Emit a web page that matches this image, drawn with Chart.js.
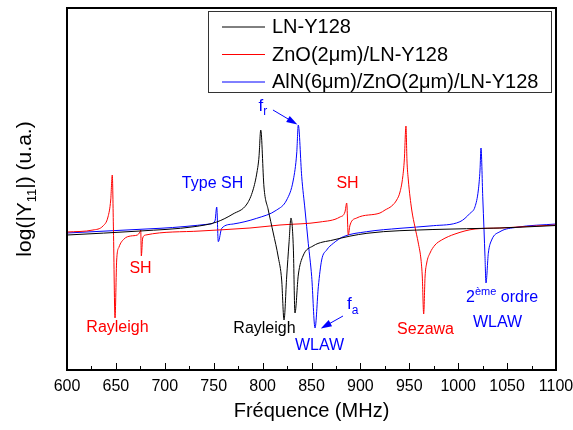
<!DOCTYPE html>
<html>
<head>
<meta charset="utf-8">
<script src="https://cdn.jsdelivr.net/npm/chart.js@4/dist/chart.umd.min.js"></script>
<style>
html,body{margin:0;padding:0;background:#fff;}
</style>
</head>
<body>
<canvas id="c" width="573" height="430"></canvas>
<script>
// series names as in the legend
const seriesNames = ['LN-Y128', 'ZnO(2\u03bcm)/LN-Y128', 'AlN(6\u03bcm)/ZnO(2\u03bcm)/LN-Y128'];

// LN-Y128 (black)
const lnFreq  = [600, 674.6, 729.9, 753.1, 769.7, 784, 790.2, 794.3, 796.3, 798.1, 801.4, 805.8, 810.9, 816, 819.5, 821.9, 824.6, 827, 829, 831.4, 833.1, 836.5, 841.3, 851.5, 872, 906.7, 974.2, 1042.7, 1100];
const lnLevel = [135, 139, 143.3, 148, 156, 166, 180, 198, 213, 240, 183, 160, 137, 113, 90, 50, 93, 127, 152, 123, 57, 95, 114, 124, 130, 136.7, 140.5, 142, 144.5];

// ZnO(2um)/LN-Y128 (red)
const znoFreq  = [600, 626.6, 636.8, 641.9, 644.7, 646.3, 647.5, 649.1, 650.8, 653.2, 658.3, 665.1, 671.9, 674.6, 675.4, 676.0, 677.4, 680.5, 736, 787.1, 817.8, 858.7, 879.1, 884.2, 886.0, 887.6, 889.4, 896.2, 920, 925.2, 932, 937.1, 940.5, 943.3, 944.9, 946.6, 947.6, 949, 952.5, 955.8, 959.2, 962, 963.3, 964.7, 966.1, 967.8, 971.2, 976.3, 983.1, 996.7, 1017.2, 1042.7, 1070.3, 1100];
const znoLevel = [138, 140, 144, 153, 170, 195, 140, 52, 110, 123, 131, 134, 135, 138, 140, 114, 132, 135, 139, 142, 145, 148, 153, 158, 167, 135, 145, 152, 157, 160, 164, 170, 178, 193, 210, 244, 210, 190, 160, 143, 127, 110, 93, 56, 93, 107, 117, 125, 130, 136, 141, 142, 143.5, 145];

// AlN(6um)/ZnO(2um)/LN-Y128 (blue)
const alnFreq  = [600, 695.1, 746.2, 751.3, 753.1, 754.7, 758.2, 770, 794, 814.4, 824.6, 831.4, 834.9, 836.5, 840, 843.4, 846.7, 850.2, 853.6, 857, 860.4, 865.5, 872.3, 882.5, 906.4, 940.5, 974.5, 1001.8, 1012.1, 1017.2, 1020.6, 1022.3, 1023.3, 1025.1, 1026.4, 1027.4, 1028.4, 1030.8, 1034.2, 1042.7, 1059.8, 1100];
const alnLevel = [137, 141.7, 146, 149, 163, 128.3, 141.7, 146, 151.7, 160, 170, 190, 217, 245, 193.3, 160, 126.7, 93.3, 42, 83.3, 110, 120, 126.7, 133.3, 138.3, 141.7, 144.3, 148.3, 156.7, 163.3, 180, 200, 222, 173.3, 140, 113.3, 87, 116.7, 130, 138.3, 142.7, 146];

const seriesColors = ['#000000', '#ff0000', '#0000ff'];

const FONT = '"Liberation Sans", Arial, Helvetica, sans-serif';

function pts(xs, ys) {
  return xs.map((x, i) => ({x: x, y: ys[i]}));
}

// text labels: [text, freq, level(baseline), colour]
const labels = [
  ['Rayleigh', 651.6, 38, '#ff0000'],
  ['SH', 675.2, 97.3, '#ff0000'],
  ['Type SH', 748.8, 182.5, '#0000ff'],
  ['SH', 886.8, 181.7, '#ff0000'],
  ['Rayleigh', 801.9, 37, '#000000'],
  ['WLAW', 858.2, 20, '#0000ff'],
  ['Sezawa', 966.6, 36, '#ff0000'],
  ['WLAW', 1040.2, 43.3, '#0000ff']
];

function drawParts(ctx, parts, x, y) {
  let cx = x;
  ctx.textAlign = 'left';
  ctx.textBaseline = 'alphabetic';
  parts.forEach(p => {
    ctx.font = p[1] + 'px ' + FONT;
    ctx.fillText(p[0], cx, y + p[2]);
    cx += ctx.measureText(p[0]).width;
  });
}

function arrow(ctx, x0, y0, x1, y1, col) {
  const a = Math.atan2(y1 - y0, x1 - x0);
  ctx.strokeStyle = col;
  ctx.fillStyle = col;
  ctx.lineWidth = 1;
  ctx.beginPath();
  ctx.moveTo(x0, y0);
  ctx.lineTo(x1 - 8 * Math.cos(a), y1 - 8 * Math.sin(a));
  ctx.stroke();
  ctx.beginPath();
  ctx.moveTo(x1, y1);
  ctx.lineTo(x1 - 11 * Math.cos(a) + 3.5 * Math.sin(a), y1 - 11 * Math.sin(a) - 3.5 * Math.cos(a));
  ctx.lineTo(x1 - 11 * Math.cos(a) - 3.5 * Math.sin(a), y1 - 11 * Math.sin(a) + 3.5 * Math.cos(a));
  ctx.closePath();
  ctx.fill();
}

const extras = {
  id: 'extras',
  afterDraw(chart) {
    const ctx = chart.ctx;
    const a = chart.chartArea;
    const xs = chart.scales.x, ys = chart.scales.y;
    const X = v => xs.getPixelForValue(v);
    const Y = v => ys.getPixelForValue(v);
    ctx.save();

    // frame
    ctx.strokeStyle = '#000';
    ctx.lineWidth = 2;
    ctx.strokeRect(a.left, a.top, a.right - a.left, a.bottom - a.top);

    // inward ticks on the bottom axis
    ctx.lineWidth = 1;
    ctx.beginPath();
    for (let f = 600; f <= 1100; f += 25) {
      const px = Math.round(X(f)) + 0.5;
      const len = (f % 50 === 0) ? 7 : 4;
      ctx.moveTo(px, a.bottom);
      ctx.lineTo(px, a.bottom - len);
    }
    ctx.stroke();

    // y axis title with subscript
    ctx.save();
    ctx.translate(24, (a.top + a.bottom) / 2);
    ctx.rotate(-Math.PI / 2);
    ctx.fillStyle = '#000';
    const yParts = [['log(|Y', 21, 0], ['11', 13, 5], ['|) (u.a.)', 21, 0]];
    let w = 0;
    yParts.forEach(p => { ctx.font = p[1] + 'px ' + FONT; w += ctx.measureText(p[0]).width; });
    drawParts(ctx, yParts, -w / 2, 7);
    ctx.restore();

    // annotations
    labels.forEach(l => {
      ctx.font = '16px ' + FONT;
      ctx.fillStyle = l[3];
      ctx.textAlign = 'center';
      ctx.textBaseline = 'alphabetic';
      ctx.fillText(l[0], X(l[1]), Y(l[2]));
    });
    ctx.fillStyle = '#0000ff';
    drawParts(ctx, [['f', 17, 0], ['r', 12, 4]], X(795.8), Y(259));
    drawParts(ctx, [['f', 17, 0], ['a', 12, 5]], X(886.3), Y(61));
    drawParts(ctx, [['2', 16, 0], ['\u00e8me', 11, -7], [' ordre', 16, 0]], X(1008), Y(68.3));
    arrow(ctx, X(810.6), Y(260), X(835.6), Y(245.5), '#0000ff');
    arrow(ctx, X(882.2), Y(54), X(859.5), Y(41.5), '#0000ff');

    // legend box
    const lx = 208.5, ly = 11.5, lw = 343, lh = 81;
    ctx.fillStyle = '#fff';
    ctx.fillRect(lx, ly, lw, lh);
    ctx.strokeStyle = '#333';
    ctx.lineWidth = 1;
    ctx.strokeRect(lx, ly, lw, lh);
    const rows = [26.5, 54, 81.5];
    seriesNames.forEach((n, i) => {
      ctx.strokeStyle = seriesColors[i];
      ctx.beginPath();
      ctx.moveTo(222, rows[i] + 0.5);
      ctx.lineTo(265, rows[i] + 0.5);
      ctx.stroke();
      ctx.fillStyle = '#000';
      ctx.font = '20px ' + FONT;
      ctx.textAlign = 'left';
      ctx.textBaseline = 'middle';
      ctx.fillText(n, 272, rows[i] + 1);
    });
    ctx.restore();
  }
};

const datasets = [
  {label: seriesNames[0], data: pts(lnFreq, lnLevel), borderColor: seriesColors[0]},
  {label: seriesNames[1], data: pts(znoFreq, znoLevel), borderColor: seriesColors[1]},
  {label: seriesNames[2], data: pts(alnFreq, alnLevel), borderColor: seriesColors[2]}
].map(d => Object.assign(d, {borderWidth: 1, pointRadius: 0, fill: false, cubicInterpolationMode: 'monotone'}));

new Chart(document.getElementById('c'), {
  type: 'line',
  data: {datasets: datasets},
  options: {
    responsive: false,
    animation: false,
    devicePixelRatio: 1,
    layout: {padding: {left: 67, right: 17, top: 8, bottom: 0}},
    plugins: {legend: {display: false}, tooltip: {enabled: false}},
    scales: {
      x: {
        type: 'linear',
        min: 600,
        max: 1100,
        grid: {display: false, drawTicks: false},
        border: {display: false},
        ticks: {stepSize: 50, color: '#000', padding: 7, font: {family: FONT, size: 16}, callback: v => String(v)},
        title: {display: true, text: 'Fréquence (MHz)', color: '#000', font: {family: FONT, size: 20}, padding: {top: 0, bottom: 7}},
        afterFit(s) { s.height = 60; s.paddingLeft = 0; s.paddingRight = 0; }
      },
      y: {
        display: false,
        min: 0,
        max: 362
      }
    }
  },
  plugins: [extras]
});
</script>
</body>
</html>
